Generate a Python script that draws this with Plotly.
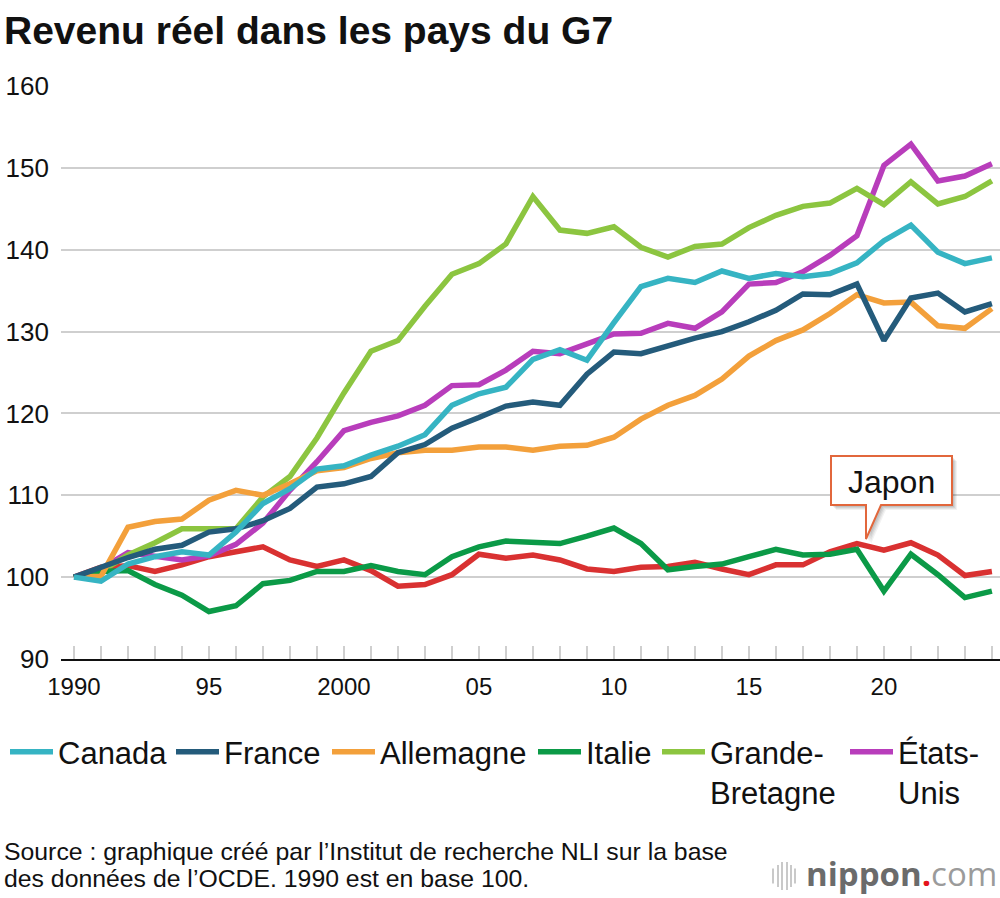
import plotly.graph_objects as go

YEARS = [1990, 1991, 1992, 1993, 1994, 1995, 1996, 1997, 1998, 1999,
         2000, 2001, 2002, 2003, 2004, 2005, 2006, 2007, 2008, 2009,
         2010, 2011, 2012, 2013, 2014, 2015, 2016, 2017, 2018, 2019,
         2020, 2021, 2022, 2023, 2024]

CANADA = [100, 99.5, 101.6, 102.5, 103.1, 102.7, 105.5, 109.0, 110.8, 113.2,
          113.6, 114.9, 116.0, 117.4, 121.0, 122.4, 123.2, 126.6, 127.8, 126.5,
          131.1, 135.5, 136.5, 136.0, 137.4, 136.5, 137.1, 136.7, 137.1, 138.4,
          141.1, 143.0, 139.7, 138.3, 139.0]
FRANCE = [100, 101.2, 102.4, 103.4, 103.9, 105.5, 105.9, 106.9, 108.4, 111.0,
          111.4, 112.3, 115.2, 116.2, 118.2, 119.5, 120.9, 121.4, 121.0, 124.8,
          127.5, 127.3, 128.3, 129.2, 130.0, 131.2, 132.6, 134.6, 134.5, 135.8,
          128.9, 134.1, 134.7, 132.4, 133.4]
ALLEMAGNE = [100, 100.1, 106.1, 106.8, 107.1, 109.4, 110.6, 110.0, 111.4, 113.0,
             113.4, 114.5, 115.2, 115.5, 115.5, 115.9, 115.9, 115.5, 116.0, 116.1,
             117.1, 119.3, 121.0, 122.2, 124.2, 127.0, 128.9, 130.2, 132.2, 134.5,
             133.5, 133.6, 130.7, 130.4, 132.8]
ITALIE = [100, 100.7, 100.8, 99.1, 97.8, 95.8, 96.5, 99.2, 99.6, 100.7,
          100.7, 101.4, 100.7, 100.3, 102.5, 103.7, 104.4, 104.2, 104.1, 105.0,
          106.0, 104.1, 100.9, 101.3, 101.6, 102.5, 103.4, 102.7, 102.8, 103.4,
          98.3, 102.8, 100.3, 97.5, 98.3]
GRANDE_BRETAGNE = [100, 100.7, 102.7, 104.2, 105.9, 105.9, 105.9, 109.8, 112.3, 117.0,
                   122.5, 127.6, 128.9, 133.1, 137.0, 138.3, 140.7, 146.5, 142.4, 142.0,
                   142.8, 140.3, 139.1, 140.4, 140.7, 142.7, 144.2, 145.3, 145.7, 147.5,
                   145.5, 148.3, 145.6, 146.5, 148.4]
ETATS_UNIS = [100, 101.0, 103.0, 102.5, 102.1, 102.6, 104.0, 106.6, 110.6, 114.1,
              117.9, 118.9, 119.7, 121.0, 123.4, 123.5, 125.3, 127.6, 127.3, 128.5,
              129.7, 129.8, 131.0, 130.4, 132.4, 135.8, 136.0, 137.3, 139.3, 141.7,
              150.3, 152.9, 148.4, 149.0, 150.5]
JAPON = [100, 101.2, 101.4, 100.7, 101.5, 102.5, 103.1, 103.7, 102.1, 101.3,
         102.1, 100.8, 98.9, 99.1, 100.3, 102.8, 102.3, 102.7, 102.1, 101.0,
         100.7, 101.2, 101.3, 101.8, 101.0, 100.3, 101.5, 101.5, 103.1, 104.1,
         103.3, 104.2, 102.7, 100.2, 100.7]

TICK_VALS = YEARS
TICK_LABELS = {1990: "1990", 1995: "95", 2000: "2000", 2005: "05",
               2010: "10", 2015: "15", 2020: "20"}
Y_TICKS = [90, 100, 110, 120, 130, 140, 150, 160]

FONT = "Liberation Sans, Arial, Helvetica, sans-serif"
W, H = 1000, 898
ML, MR, MT, MB = 61, 0, 86, 239

# (name, values, colour, legend id, legend symbol start px)
series = [
    ("Japon", JAPON, "#d93131", None, None),
    ("États-<br>Unis", ETATS_UNIS, "#b83dbb", "legend6", 852),
    ("Grande-<br>Bretagne", GRANDE_BRETAGNE, "#8cc540", "legend5", 664),
    ("Italie", ITALIE, "#0b9a47", "legend4", 540),
    ("Allemagne", ALLEMAGNE, "#f3a03b", "legend3", 334),
    ("France", FRANCE, "#245b7b", "legend2", 178),
    ("Canada", CANADA, "#36b4c3", "legend", 12),
]

fig = go.Figure()
legend_layout = {}
for name, vals, col, leg, lx in series:
    kw = dict(x=YEARS, y=vals, name=name, mode="lines",
              line=dict(color=col, width=5.5), hoverinfo="skip")
    if leg is None:
        kw["showlegend"] = False
    else:
        kw["legend"] = leg
        legend_layout[leg] = dict(
            orientation="h", xref="container", yref="container",
            x=(lx - 7) / W, xanchor="left", y=1 - 725 / H, yanchor="top",
            font=dict(family=FONT, size=31, color="#111111"),
            itemwidth=43, valign="top",
            bgcolor="rgba(0,0,0,0)")
    fig.add_trace(go.Scatter(**kw))


def px_to_paper(px, py):
    return ((px - ML) / (W - ML - MR), (H - MB - py) / (H - MT - MB))


shapes = []
bx0, by0, bx1, by1 = 831, 456, 952, 505
tipx, tipy = 866, 539
base_l, base_r = 866, 881


def bubble_path(dx=0, dy=0):
    pts = [(bx0, by0), (bx1, by0), (bx1, by1), (base_r, by1), (tipx, tipy),
           (base_l, by1), (bx0, by1)]
    s = ""
    for i, (a, b) in enumerate(pts):
        u, v = px_to_paper(a + dx, b + dy)
        s += ("M" if i == 0 else "L") + f"{u:.5f},{v:.5f} "
    return s + "Z"


for d, op in [(5, 0.05), (4, 0.06), (3, 0.07), (2, 0.08)]:
    shapes.append(dict(type="path", xref="paper", yref="paper",
                       path=bubble_path(d, d), fillcolor=f"rgba(0,0,0,{op})",
                       line=dict(width=0), layer="above"))
shapes.append(dict(type="path", xref="paper", yref="paper", path=bubble_path(),
                   fillcolor="white", line=dict(color="#e2673c", width=2),
                   layer="above"))

bars = [(773, 15), (778, 22), (782, 28), (787, 28), (791, 22), (795, 15)]
for bxp, hgt in bars:
    x0, y0 = px_to_paper(bxp, 876 - hgt / 2)
    _, y1 = px_to_paper(bxp, 876 + hgt / 2)
    shapes.append(dict(type="line", xref="paper", yref="paper",
                       x0=x0, x1=x0, y0=y0, y1=y1,
                       line=dict(color="#c9c9c9", width=2)))

annotations = []
jx, jy = px_to_paper((bx0 + bx1) / 2, (by0 + by1) / 2 + 1)
annotations.append(dict(xref="paper", yref="paper", x=jx, y=jy, text="Japon",
                        showarrow=False, xanchor="center", yanchor="middle",
                        font=dict(family=FONT, size=32, color="#111111")))

src_lines = ["Source : graphique créé par l’Institut de recherche NLI sur la base",
             "des données de l’OCDE. 1990 est en base 100."]
for i, t in enumerate(src_lines):
    sx, sy = px_to_paper(2, 851 + 28 * i)
    annotations.append(dict(xref="paper", yref="paper", x=sx, y=sy, text=t,
                            showarrow=False, xanchor="left", yanchor="middle",
                            font=dict(family=FONT, size=24.8, color="#111111")))

lx, ly = px_to_paper(999, 873)
annotations.append(dict(
    xref="paper", yref="paper", x=lx, y=ly,
    text="<span style='color:#6b6b6b'><b>nippon</b></span>"
         "<span style='color:#e5141b'><b>.</b></span>"
         "<span style='color:#9b9b9b'>com</span>",
    showarrow=False, xanchor="right", yanchor="middle",
    font=dict(family="Open Sans, " + FONT, size=33)))

fig.update_layout(
    width=W, height=H,
    margin=dict(l=ML, r=MR, t=MT, b=MB, pad=0),
    paper_bgcolor="white", plot_bgcolor="white",
    font=dict(family=FONT, color="#111111"),
    title=dict(text="Revenu réel dans les pays du G7", xref="container",
               yref="container", x=0.004, xanchor="left", y=1 - 30 / H,
               yanchor="middle",
               font=dict(family=FONT, size=39, color="#111111", weight="bold")),
    xaxis=dict(range=[1989.52, 2024.3], tickvals=TICK_VALS,
               ticktext=[TICK_LABELS.get(y, "") for y in TICK_VALS],
               ticks="inside", ticklen=13, tickwidth=2, tickcolor="#cfcfcf",
               showgrid=False, zeroline=False, showline=True,
               linecolor="#111111", linewidth=2,
               tickfont=dict(family=FONT, size=24, color="#111111"),
               ticklabelstandoff=5, fixedrange=True),
    yaxis=dict(range=[90, 160], tickvals=Y_TICKS, showgrid=True,
               gridcolor="#cfcfcf", gridwidth=2, zeroline=False,
               showline=False, ticks="",
               tickfont=dict(family=FONT, size=26, color="#111111"),
               ticklabelstandoff=11, fixedrange=True),
    shapes=shapes, annotations=annotations,
    showlegend=True,
    **legend_layout,
)

fig.write_html("out.html", config={"displayModeBar": False},
               post_script="document.body.style.margin='0px';"
                           "document.body.style.overflow='hidden';")
